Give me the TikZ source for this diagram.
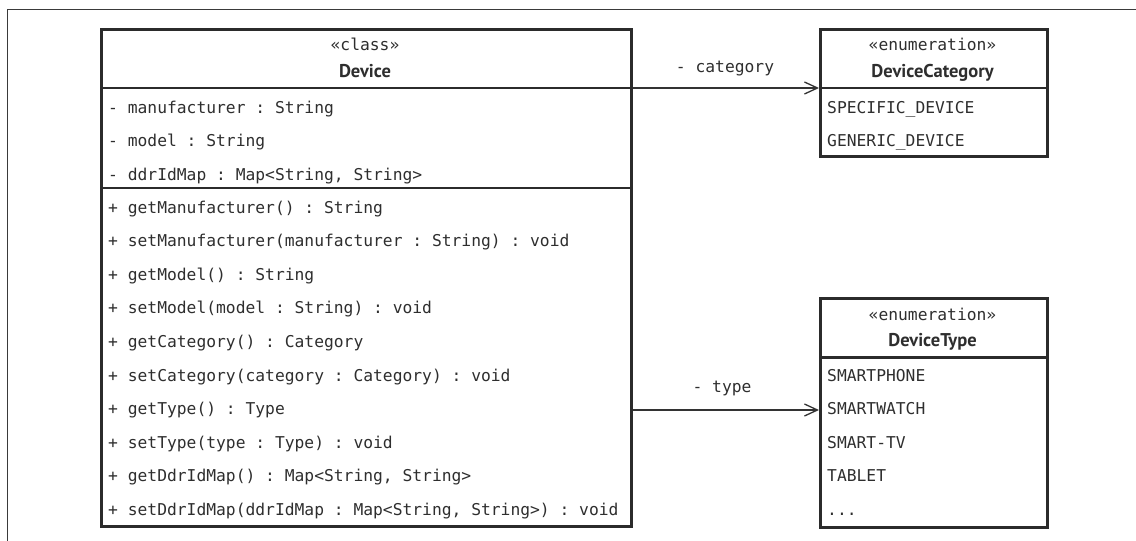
\documentclass[tikz,border=0pt]{standalone}
\usepackage{fontspec}
\setmonofont{DejaVu Sans Mono}
\newfontfamily\hdrfont{PT Sans}
\usetikzlibrary{arrows.meta}
\definecolor{boxc}{HTML}{2B2B2B}
\definecolor{txtc}{HTML}{2E2E2E}
\definecolor{linec}{HTML}{333333}
\definecolor{framec}{HTML}{3A3A3A}
\begin{document}
\begin{tikzpicture}[x=1pt,y=-1pt,
  umlbox/.style={draw=boxc, line width=2.5pt, rectangle, inner sep=0pt, anchor=north west},
  sepline/.style={draw=boxc, line width=2.5pt},
  item/.style={anchor=base west, inner sep=0pt, text=txtc, font=\ttfamily\fontsize{16.3}{16.3}\selectfont},
  stereo/.style={anchor=base, inner sep=0pt, text=txtc, font=\ttfamily\fontsize{16.3}{16.3}\selectfont},
  title/.style={anchor=base, inner sep=0pt, text=txtc, font=\hdrfont\bfseries\fontsize{18.5}{18.5}\selectfont},
  assoc/.style={draw=linec, line width=1.3pt, -{Straight Barb[length=13pt,width=12pt,line width=1.3pt]}},
  ]
\useasboundingbox (0,0) rectangle (1136,541);
% outer frame (partially visible)
\draw[framec, line width=1pt] (1136,9.5) -- (7,9.5) -- (7,541);

% ---------- Device ----------
\node[umlbox, minimum width=530pt, minimum height=497pt] (dev) at (100,28) {};
\coordinate (devsepA) at (100,88);
\coordinate (devsepB) at (100,188);
\draw[sepline] (devsepA) -- (dev.east |- devsepA);
\draw[sepline] (devsepB) -- (dev.east |- devsepB);
\node[stereo] (devst) at (365,50) {«class»};
\node[title] (devname) at (365,77) {Device};
\node[item] (a1) at (108,113) {- manufacturer : String};
\node[item] (a2) at (108,146.6) {- model : String};
\node[item] (a3) at (108,180.2) {- ddrIdMap : Map<String, String>};
\node[item] (m1) at (108,213) {+ getManufacturer() : String};
\node[item] (m2) at (108,246.6) {+ setManufacturer(manufacturer : String) : void};
\node[item] (m3) at (108,280.2) {+ getModel() : String};
\node[item] (m4) at (108,313.8) {+ setModel(model : String) : void};
\node[item] (m5) at (108,347.4) {+ getCategory() : Category};
\node[item] (m6) at (108,381) {+ setCategory(category : Category) : void};
\node[item] (m7) at (108,414.6) {+ getType() : Type};
\node[item] (m8) at (108,448.2) {+ setType(type : Type) : void};
\node[item] (m9) at (108,481.8) {+ getDdrIdMap() : Map<String, String>};
\node[item] (m10) at (108,515.4) {+ setDdrIdMap(ddrIdMap : Map<String, String>) : void};

% ---------- DeviceCategory ----------
\node[umlbox, minimum width=227pt, minimum height=127pt] (cat) at (819,28) {};
\coordinate (catsep) at (819,88);
\draw[sepline] (catsep) -- (cat.east |- catsep);
\node[stereo] (catst) at (932.5,50) {«enumeration»};
\node[title] (catname) at (932.5,77) {DeviceCategory};
\node[item] (c1) at (827,113) {SPECIFIC\_DEVICE};
\node[item] (c2) at (827,146.6) {GENERIC\_DEVICE};

% ---------- DeviceType ----------
\node[umlbox, minimum width=227pt, minimum height=229pt] (typ) at (819,297) {};
\coordinate (typsep) at (819,357.5);
\draw[sepline] (typsep) -- (typ.east |- typsep);
\node[stereo] (typst) at (932.5,320) {«enumeration»};
\node[title] (typname) at (932.5,346) {DeviceType};
\node[item] (t1) at (827,381) {SMARTPHONE};
\node[item] (t2) at (827,414.6) {SMARTWATCH};
\node[item] (t3) at (827,448.2) {SMART-TV};
\node[item] (t4) at (827,481.8) {TABLET};
\node[item] (t5) at (827,515.4) {...};

% ---------- associations ----------
\coordinate (typarrow) at (819,410);
\draw[assoc] (dev.east |- catsep) -- (catsep);
\draw[assoc] (dev.east |- typarrow) -- (typarrow);
\node[stereo] (lcat) at (725,72) {- category};
\node[stereo] (ltyp) at (722,392) {- type};
\end{tikzpicture}
\end{document}
